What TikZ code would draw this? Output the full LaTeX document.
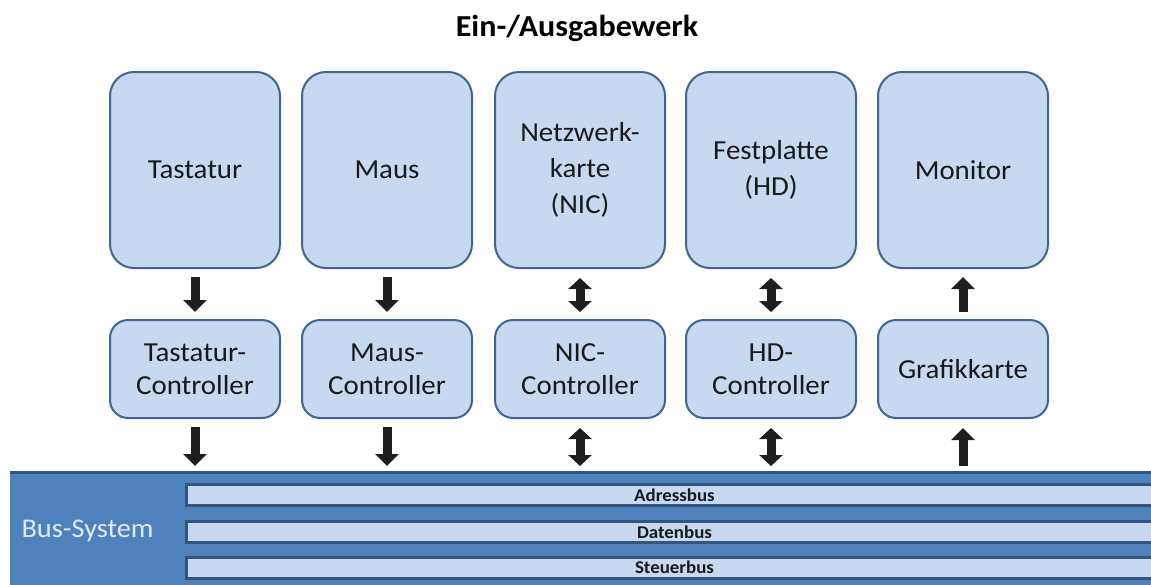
\documentclass[tikz,border=0pt]{standalone}
\usepackage{fontspec}
\setmainfont[FakeStretch=1.05]{Carlito}
\usetikzlibrary{arrows.meta,calc}
\definecolor{boxfill}{RGB}{198,217,241}
\definecolor{boxline}{RGB}{65,100,145}
\definecolor{busfill}{RGB}{79,129,189}
\definecolor{busline}{RGB}{52,84,128}
\definecolor{bustext}{RGB}{225,235,247}
\definecolor{arrowcol}{RGB}{30,30,30}
\tikzset{
  device/.style={draw=boxline, fill=boxfill, line width=2pt, rounded corners=24pt,
    minimum width=170pt, minimum height=196pt, align=center,
    font=\fontsize{27.5}{36}\selectfont, text=black!90},
  ctrl/.style={draw=boxline, fill=boxfill, line width=2pt, rounded corners=18pt,
    minimum width=170pt, minimum height=98pt, align=center,
    font=\fontsize{27.5}{33}\selectfont, text=black!90},
  busbar/.style={draw=busline, fill=boxfill, line width=3pt, anchor=west,
    minimum width=976pt, minimum height=21pt, inner sep=0pt,
    font=\bfseries\fontsize{18}{20}\selectfont, text=black!90},
  blockarrow/.style={draw=arrowcol, line width=9pt,
    -{Triangle[width=23pt,length=12pt]}},
  dblarrow/.style={draw=arrowcol, line width=9pt,
    {Triangle[width=23pt,length=11pt]}-{Triangle[width=23pt,length=11pt]}}
}
\begin{document}
\begin{tikzpicture}[x=1pt,y=-1pt]
\useasboundingbox (0,0) rectangle (1151,584);

% heading
\node[font=\bfseries\fontsize{30.5}{34}\selectfont] (title) at (577,28) {Ein-/Ausgabewerk};

% peripheral devices
\node[device] (tast) at (195,170) {Tastatur};
\node[device] (maus) at (387,170) {Maus};
\node[device] (nic)  at (580,170) {Netzwerk-\\karte\\(NIC)};
\node[device] (hd)   at (771,170) {Festplatte\\(HD)};
\node[device] (mon)  at (963,170) {Monitor};

% controllers
\node[ctrl] (tastc) at (195,369) {Tastatur-\\Controller};
\node[ctrl] (mausc) at (387,369) {Maus-\\Controller};
\node[ctrl] (nicc)  at (580,369) {NIC-\\Controller};
\node[ctrl] (hdc)   at (771,369) {HD-\\Controller};
\node[ctrl] (grafik) at (963,369) {Grafikkarte};

% bus system
\fill[busfill] (10,471) rectangle (1160,590);
\draw[busline, line width=3pt] (10,472) -- (1160,472);
\coordinate (bustop) at (10,471);
\node[anchor=west, text=bustext, font=\fontsize{27}{30}\selectfont] (bussys) at (18,531) {Bus-System};
\node[busbar] (adr)  at (185,495)   {Adressbus};
\node[busbar] (dat)  at (185,532)   {Datenbus};
\node[busbar] (steu) at (185,567.5) {Steuerbus};

% device <-> controller
\draw[blockarrow, shorten <=8pt, shorten >=7pt] (tast.south) -- (tastc.north);
\draw[blockarrow, shorten <=8pt, shorten >=7pt] (maus.south) -- (mausc.north);
\draw[dblarrow, shorten <=9pt, shorten >=7pt] (nic.south) -- (nicc.north);
\draw[dblarrow, shorten <=9pt, shorten >=7pt] (hd.south) -- (hdc.north);
\draw[blockarrow, shorten <=7pt, shorten >=8pt] (grafik.north) -- (mon.south);

% controller <-> bus
\draw[blockarrow, shorten <=8pt, shorten >=5pt] (tastc.south) -- (tastc.south |- bustop);
\draw[blockarrow, shorten <=8pt, shorten >=5pt] (mausc.south) -- (mausc.south |- bustop);
\draw[dblarrow, shorten <=9pt, shorten >=5pt] (nicc.south) -- (nicc.south |- bustop);
\draw[dblarrow, shorten <=9pt, shorten >=5pt] (hdc.south) -- (hdc.south |- bustop);
\draw[blockarrow, shorten <=5pt, shorten >=9pt] (grafik.south |- bustop) -- (grafik.south);
\end{tikzpicture}
\end{document}
